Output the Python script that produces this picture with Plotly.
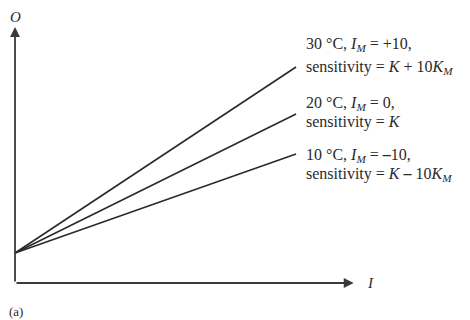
import plotly.graph_objects as go

# Output O versus input I for three ambient temperatures
temps_c = [10, 20, 30]
modifying_input = [-10, 0, 10]          # I_M
sensitivity = [0.99, 1.39, 1.86]        # slope dO/dI
zero_offset = 3.0                       # O at I = 0
input_span = [0, 10]

DASH = "<b>\u2013</b>"
label_lines = [
    [f"10 °C, <i>I<sub>M</sub></i> = {DASH}10,",
     f"sensitivity = <i>K</i> {DASH} 10<i>K<sub>M</sub></i>"],
    ["20 °C, <i>I<sub>M</sub></i> = 0,",
     "sensitivity = <i>K</i>"],
    ["30 °C, <i>I<sub>M</sub></i> = +10,",
     "sensitivity = <i>K</i> + 10<i>K<sub>M</sub></i>"],
]

INK = "#2a2a2a"
SERIF = "Liberation Serif, Times New Roman, serif"

fig = go.Figure()
for s in sensitivity:
    fig.add_trace(go.Scatter(
        x=input_span,
        y=[zero_offset + s * i for i in input_span],
        mode="lines",
        line=dict(color=INK, width=1.6),
        hoverinfo="skip",
        showlegend=False,
    ))

annotations = []
# axes drawn as arrows
annotations.append(dict(x=0, y=25.6, ax=0, ay=0, xref="x", yref="y",
                        axref="x", ayref="y", text="", showarrow=True,
                        arrowhead=2, arrowsize=1.1, arrowwidth=1.8,
                        arrowcolor="#3a3a3a", standoff=0, startstandoff=0))
annotations.append(dict(x=12.05, y=0, ax=0, ay=0, xref="x", yref="y",
                        axref="x", ayref="y", text="", showarrow=True,
                        arrowhead=2, arrowsize=1.1, arrowwidth=1.8,
                        arrowcolor="#3a3a3a", standoff=0, startstandoff=0))

annotations.append(dict(x=0.03, y=26.6, xref="x", yref="y", text="<i>O</i>",
                        showarrow=False, font=dict(family=SERIF, size=15, color=INK),
                        xanchor="center", yanchor="middle"))
annotations.append(dict(x=12.45, y=0, xref="x", yref="y", text="<i>I</i>",
                        showarrow=False, font=dict(family=SERIF, size=15, color=INK),
                        xanchor="left", yanchor="middle"))
annotations.append(dict(x=-0.27, y=-2.8, xref="x", yref="y", text="(a)",
                        showarrow=False, font=dict(family=SERIF, size=13, color=INK),
                        xanchor="left", yanchor="middle"))

# curve labels: two lines each, placed beside the line ends
label_rows = [(12.8, 10.9), (18.0, 16.1), (23.9, 21.6)]
for lines, rows in zip(label_lines, label_rows):
    for txt, yy in zip(lines, rows):
        annotations.append(dict(x=10.28, y=yy, xref="x", yref="y", text=txt,
                                showarrow=False,
                                font=dict(family=SERIF, size=16, color=INK),
                                xanchor="left", yanchor="middle"))

fig.update_layout(
    width=470, height=320,
    margin=dict(l=0, r=0, t=0, b=0),
    paper_bgcolor="white", plot_bgcolor="white",
    xaxis=dict(range=[-0.534, 16.19], visible=False, fixedrange=True),
    yaxis=dict(range=[-3.7, 28.3], visible=False, fixedrange=True),
    annotations=annotations,
    showlegend=False,
)

fig.write_html("out.html")
